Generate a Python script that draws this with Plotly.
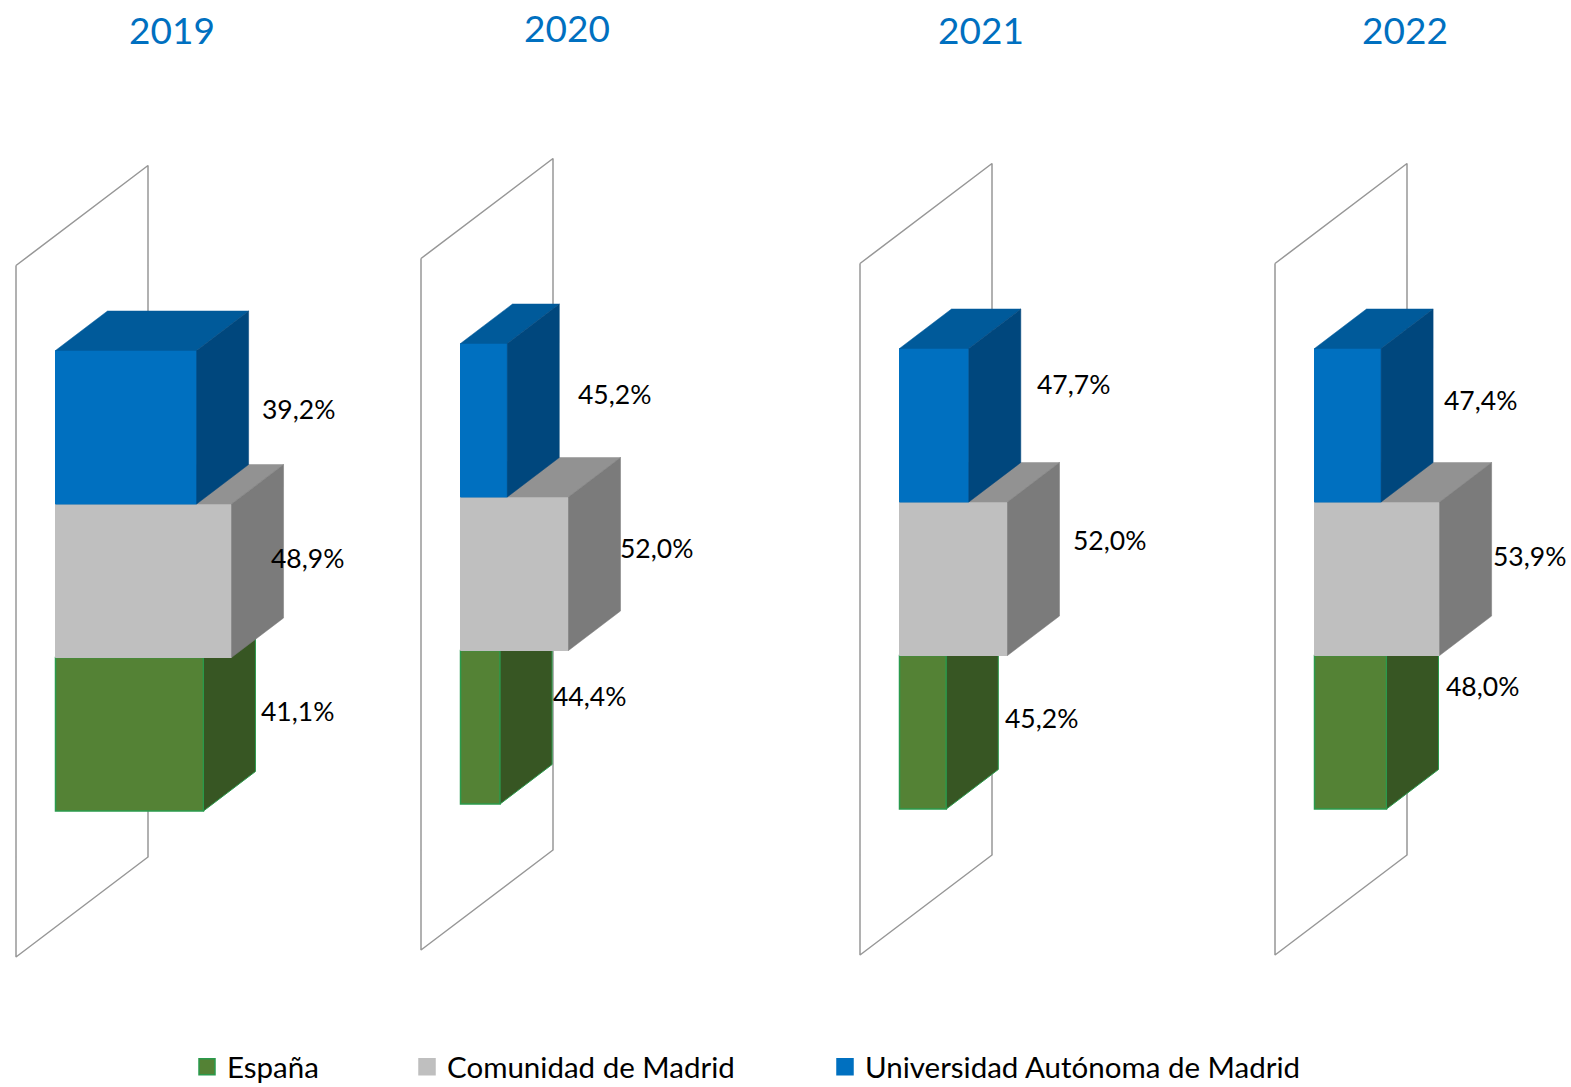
import plotly.graph_objects as go

W, H = 1571, 1087

# --- data ---
years = ["2019", "2020", "2021", "2022"]
series = ["España", "Comunidad de Madrid", "Universidad Autónoma de Madrid"]
espana = [41.1, 44.4, 45.2, 48.0]
comunidad = [48.9, 52.0, 52.0, 53.9]
uam = [39.2, 45.2, 47.7, 47.4]
axis_start = [0, 40, 40, 40]
axis_scale = [3.6, 9.0, 9.0, 9.0]  # px per percentage point

# --- layout constants (pixels) ---
origin_x = [55.5, 460.5, 899.5, 1314.5]
top_y = [350.5, 343.5, 348.5, 348.5]
title_pos = [(172, 29), (567, 27), (981, 29), (1405, 30)]
label_pos = [
    [(297.5, 711), (307, 558), (298.5, 409)],
    [(589.5, 696), (656.5, 548), (614.5, 394)],
    [(1041, 718), (1109, 540), (1073.5, 384)],
    [(1482, 686), (1529.5, 556), (1480, 400)],
]
ROW = 153.5
DX, DY = 52, 39.5
WALL_LEFT, WALL_DX, WALL_DY, WALL_ABOVE, WALL_BELOW = 39.5, 132, 100, 85, 146
FONT = "Lato"
front = ["#548235", "#BFBFBF", "#0070C0"]
top_c = ["#44692B", "#929292", "#005A9A"]
side = ["#375623", "#7B7B7B", "#00477D"]
edge = ["#2A9A4C", "#BFBFBF", "#0070C0"]
edge_side = ["#2A9A4C", "#7B7B7B", "#00477D"]
legend_x = [187, 407, 825]
legend_y = 1067

values = [espana, comunidad, uam]
fig = go.Figure()
layout = dict(
    width=W, height=H, autosize=False,
    margin=dict(l=0, r=0, t=0, b=0, autoexpand=False),
    paper_bgcolor="white", plot_bgcolor="rgba(0,0,0,0)", barmode="overlay",
    hovermode=False,
)
annotations = []

DOM_T, DOM_B = 100, 1000
hidden = dict(visible=False, showgrid=False, zeroline=False, fixedrange=True)

for i, year in enumerate(years):
    x0, base, s, top = origin_x[i], axis_start[i], axis_scale[i], top_y[i]
    xid = f"x{i+1}"
    xname = "xaxis" if i == 0 else f"xaxis{i+1}"
    left_px, right_px = x0 - 45, x0 + 250
    layout[xname] = dict(
        hidden, domain=[left_px / W, right_px / W],
        range=[base + (left_px - x0) / s, base + (right_px - x0) / s],
    )
    yrange = [2.5 - (DOM_B - top) / ROW, 2.5 - (DOM_T - top) / ROW]
    ux, uy = DX / s, DY / ROW  # depth in data units
    first_y = None
    for layer in range(4):
        yn = 4 * i + layer + 1
        yid = f"y{yn}"
        yname = "yaxis" if yn == 1 else f"yaxis{yn}"
        ax = dict(hidden, domain=[1 - DOM_B / H, 1 - DOM_T / H], range=yrange,
                  anchor=xid)
        if first_y is None:
            first_y = yid
        else:
            ax["overlaying"] = first_y
        layout[yname] = ax
        if layer == 0:
            wx = base - WALL_LEFT / s
            wxb = wx + WALL_DX / s
            ylo = -0.5 - WALL_BELOW / ROW
            yhi = 2.5 + WALL_ABOVE / ROW
            d = WALL_DY / ROW
            fig.add_trace(go.Scatter(
                x=[wx, wxb, wxb, wx, wx], y=[yhi, yhi + d, ylo + d, ylo, yhi],
                mode="lines", line=dict(color="#979797", width=1.5),
                xaxis=xid, yaxis=yid, showlegend=False))
            continue
        j = layer - 1
        v = values[j][i]
        fig.add_trace(go.Bar(
            x=[v - base], y=[j], base=[base], width=[1], orientation="h",
            marker=dict(color=front[j], line=dict(color=edge[j], width=1.5 if j == 0 else 1)),
            name=series[j], xaxis=xid, yaxis=yid, showlegend=False))
        lo, hi = j - 0.5, j + 0.5
        # top face
        fig.add_trace(go.Scatter(
            x=[base, v, v + ux, base + ux, base],
            y=[hi, hi, hi + uy, hi + uy, hi],
            mode="lines", fill="toself", fillcolor=top_c[j],
            line=dict(color=top_c[j], width=0.5),
            xaxis=xid, yaxis=yid, showlegend=False))
        # side face
        fig.add_trace(go.Scatter(
            x=[v, v + ux, v + ux, v, v],
            y=[lo, lo + uy, hi + uy, hi, lo],
            mode="lines", fill="toself", fillcolor=side[j],
            line=dict(color=edge_side[j], width=1 if j == 0 else 0.5),
            xaxis=xid, yaxis=yid, showlegend=False))
        lx, ly = label_pos[i][j]
        annotations.append(dict(
            text=f"{v:.1f}%".replace(".", ","), x=lx / W, y=1 - ly / H,
            xref="paper", yref="paper", xanchor="center", yanchor="middle",
            showarrow=False, font=dict(family=FONT, size=26.5, color="#000000")))
    tx, ty = title_pos[i]
    annotations.append(dict(
        text=year, x=tx / W, y=1 - ty / H, xref="paper", yref="paper",
        xanchor="center", yanchor="middle", showarrow=False,
        font=dict(family=FONT, size=37, color="#0070C0")))

# legend entries, one legend per entry so that each keeps its own position
for j, name in enumerate(series):
    lname = "legend" if j == 0 else f"legend{j+1}"
    fig.add_trace(go.Scatter(
        x=[None], y=[None], mode="markers", name=name,
        marker=dict(symbol="square", size=16, color=front[j],
                    line=dict(color=edge[j], width=1.5)),
        xaxis="x1", yaxis="y1", showlegend=True, legend=lname))
    layout[lname] = dict(
        x=legend_x[j] / W, y=1 - legend_y / H, xanchor="left", yanchor="middle",
        orientation="h", bgcolor="rgba(0,0,0,0)", borderwidth=0,
        font=dict(family=FONT, size=29.5, color="#000000"), itemclick=False,
        itemdoubleclick=False,
    )

layout["annotations"] = annotations
fig.update_layout(**layout)
fig.write_html("out.html", config=dict(displayModeBar=False),
               post_script="document.body.style.margin='0';document.body.style.overflow='hidden';")
